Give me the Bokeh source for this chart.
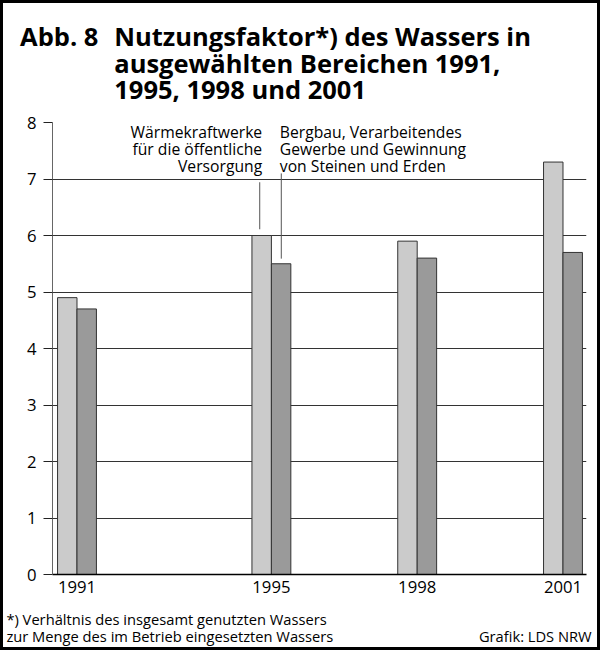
from bokeh.plotting import figure
from bokeh.layouts import column
from bokeh.models import Range1d, FixedTicker, Label, ColumnDataSource
from bokeh.embed import file_html
from bokeh.resources import INLINE

# ---- data ----
years = [1991, 1995, 1998, 2001]
kraftwerke = [4.9, 6.0, 5.9, 7.3]   # Wärmekraftwerke für die öffentliche Versorgung
bergbau = [4.7, 5.5, 5.6, 5.7]      # Bergbau, Verarbeitendes Gewerbe und Gewinnung von Steinen und Erden
y_ticks = [0, 1, 2, 3, 4, 5, 6, 7, 8]
title_number = "Abb. 8"
title_lines = ["Nutzungsfaktor*) des Wassers in",
               "ausgewählten Bereichen 1991,",
               "1995, 1998 und 2001"]
label_kw = ["Wärmekraftwerke", "für die öffentliche", "Versorgung"]
label_bb = ["Bergbau, Verarbeitendes", "Gewerbe und Gewinnung", "von Steinen und Erden"]
footnote = ["*) Verhältnis des insgesamt genutzten Wassers",
            "zur Menge des im Betrieb eingesetzten Wassers"]
source_note = "Grafik: LDS NRW"

FONT = "Open Sans"

# reference-pixel -> layout-pixel scale
S = 600 / 612.0
def M(r):
    return (r - 2) * S
def R(m):
    return m / S + 2
def fs(px):
    return "%.1fpx" % (px * S)
def base(ref_y, size):
    # compensate Bokeh's label placement so the baseline lands at ref_y
    return ref_y - 0.32 * size

BORDER = 3
INNER_W = 600 - 2 * BORDER
TITLE_H, MAIN_H, FOOT_H = 105, 497, 42

def text_panel(top, height):
    f = figure(width=INNER_W, height=height, title=None,
               x_range=Range1d(R(BORDER), R(BORDER + INNER_W)),
               y_range=Range1d(R(top + height), R(top)),
               x_axis_location=None, y_axis_location=None,
               output_backend="svg", toolbar_location=None,
               min_border=0, min_border_left=0, min_border_right=0,
               min_border_top=0, min_border_bottom=0)
    f.frame_align = False
    f.outline_line_color = None
    f.grid.visible = False
    return f

# ---------------- title ----------------
T_SIZE = 26
t_top = BORDER
pt = text_panel(t_top, TITLE_H)
pt.add_layout(Label(x=22, y=base(47, T_SIZE), text=title_number, text_font=FONT,
                    text_font_style="bold", text_font_size=fs(T_SIZE),
                    text_baseline="alphabetic", text_color="black"))
for i, t in enumerate(title_lines):
    pt.add_layout(Label(x=118, y=base(47 + 27 * i, T_SIZE), text=t, text_font=FONT,
                        text_font_style="bold", text_font_size=fs(T_SIZE),
                        text_baseline="alphabetic", text_color="black"))

# ---------------- main chart ----------------
FL, FR, FT, FB = 55, 600, 126, 587.5      # plot frame in reference pixels
PX_YEAR = 49.6
x0 = years[0] - (80 - FL) / PX_YEAR
x1 = years[0] + (FR - 80) / PX_YEAR
y0, y1 = y_ticks[0], y_ticks[-1]

def dx(px):
    return x0 + (px - FL) * (x1 - x0) / (FR - FL)
def dy(py):
    return y0 + (FB - py) * (y1 - y0) / (FB - FT)

m_top = t_top + TITLE_H
p = figure(width=INNER_W, height=MAIN_H, title=None,
           x_range=Range1d(x0, x1), y_range=Range1d(y0, y1),
           output_backend="svg", toolbar_location=None,
           min_border_left=round(M(FL) - BORDER),
           min_border_right=round(INNER_W - (M(FR) - BORDER)),
           min_border_top=round(M(FT) - m_top),
           min_border_bottom=round(MAIN_H - (M(FB) - m_top)))
p.frame_align = False
p.outline_line_color = None

off, bw = 0.2, 0.4
src = ColumnDataSource(dict(xa=[y - off for y in years], xb=[y + off for y in years],
                            kw=kraftwerke, bb=bergbau))
p.vbar(x="xa", top="kw", width=bw, source=src, fill_color="#cbcbcb",
       line_color="#333333", line_width=1)
p.vbar(x="xb", top="bb", width=bw, source=src, fill_color="#9a9a9a",
       line_color="#333333", line_width=1)

p.xaxis.ticker = FixedTicker(ticks=years)
p.xaxis.major_tick_out = 0
p.xaxis.major_tick_in = 0
p.xaxis.minor_tick_line_color = None
p.xaxis.axis_line_color = "black"
p.xaxis.axis_line_width = 1.3
p.xaxis.major_label_text_font = FONT
p.xaxis.major_label_text_font_size = fs(17)
p.xaxis.major_label_text_color = "black"
p.xaxis.major_label_standoff = 6

p.yaxis.ticker = FixedTicker(ticks=y_ticks)
p.yaxis.major_tick_out = 9
p.yaxis.major_tick_in = 0
p.yaxis.minor_tick_line_color = None
p.yaxis.axis_line_color = "#666666"
p.yaxis.major_tick_line_color = "#222222"
p.yaxis.major_label_text_font = FONT
p.yaxis.major_label_text_font_size = fs(17)
p.yaxis.major_label_text_color = "black"
p.yaxis.major_label_standoff = 7

p.xgrid.visible = False
p.ygrid.ticker = FixedTicker(ticks=y_ticks)
p.ygrid.grid_line_color = "#333333"
p.ygrid.grid_line_width = 1

# leader lines from the labels to the 1995 bars
p.segment(x0=[dx(266.5), dx(288.5)], y0=[dy(187), dy(178)],
          x1=[dx(266.5), dx(288.5)], y1=[dy(235), dy(265)],
          line_color="#555555", line_width=1)

A_SIZE = 16
for i, t in enumerate(label_kw):
    p.add_layout(Label(x=dx(269), y=dy(base(141 + 17.5 * i, A_SIZE)), text=t,
                       text_align="right", text_baseline="alphabetic", text_font=FONT,
                       text_font_size=fs(A_SIZE), text_color="black"))
for i, t in enumerate(label_bb):
    p.add_layout(Label(x=dx(287), y=dy(base(141 + 17.5 * i, A_SIZE)), text=t,
                       text_align="left", text_baseline="alphabetic", text_font=FONT,
                       text_font_size=fs(A_SIZE), text_color="black"))

# ---------------- footnote ----------------
F_SIZE = 15
f_top = m_top + MAIN_H
pf = text_panel(f_top, FOOT_H)
for i, t in enumerate(footnote):
    pf.add_layout(Label(x=8, y=base(638 + 17 * i, F_SIZE), text=t, text_font=FONT,
                        text_font_size=fs(F_SIZE), text_baseline="alphabetic",
                        text_color="black"))
pf.add_layout(Label(x=605, y=base(655, F_SIZE), text=source_note, text_font=FONT,
                    text_align="right", text_font_size=fs(F_SIZE),
                    text_baseline="alphabetic", text_color="black"))

layout = column(pt, p, pf, spacing=0, styles={"border": "%dpx solid black" % BORDER})
open("out.html", "w").write(file_html(layout, INLINE))
